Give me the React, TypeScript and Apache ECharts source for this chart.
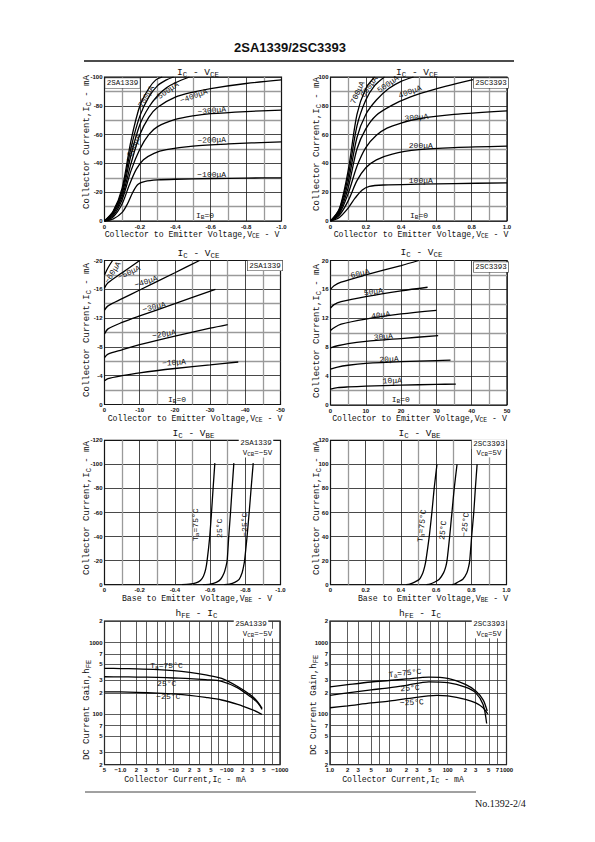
import React, { useEffect, useRef } from "react";
import * as echarts from "echarts";

// ================= DATA =================
// Fig.1  2SA1339  IC–VCE  (|VCE| V, |IC| mA), IB = −100 … −700 µA
const satA_100 = [[0, 0], [0.05, 1.5], [0.1, 6], [0.13, 12], [0.16, 20], [0.19, 25.5], [0.23, 27.5], [0.3, 28.5], [0.4, 29], [0.6, 29.5], [0.8, 29.8], [1.0, 30]];
const satA_200 = [[0, 0], [0.05, 3], [0.1, 12], [0.14, 25], [0.18, 36], [0.22, 42.5], [0.28, 47], [0.35, 49.5], [0.5, 52], [0.7, 53.5], [1.0, 55]];
const satA_300 = [[0, 0], [0.05, 4], [0.1, 15], [0.15, 35], [0.2, 50], [0.25, 60], [0.3, 65.5], [0.4, 70.5], [0.5, 73], [0.6, 74.5], [0.8, 76], [1.0, 77]];
const satA_400 = [[0, 0], [0.05, 5], [0.1, 17], [0.15, 40], [0.2, 60], [0.25, 72], [0.3, 79], [0.4, 86], [0.5, 89.5], [0.6, 92], [0.8, 95.5], [1.0, 98]];
const satA_500 = [[0, 0], [0.05, 6], [0.1, 19], [0.15, 46], [0.2, 67], [0.25, 79], [0.3, 87], [0.35, 92.5], [0.4, 96], [0.48, 100]];
const satA_600 = [[0, 0], [0.05, 6.5], [0.1, 21], [0.15, 51], [0.2, 73], [0.25, 86], [0.3, 94], [0.35, 98], [0.39, 100]];
const satA_700 = [[0, 0], [0.05, 7], [0.1, 23], [0.15, 56], [0.2, 80], [0.25, 92], [0.29, 98], [0.326, 100]];

// Fig.2  2SC3393  IC–VCE, IB = 100 … 700 µA
const satC_100 = [[0, 0], [0.05, 2.5], [0.1, 9], [0.14, 16], [0.18, 21.5], [0.22, 24], [0.3, 25], [0.5, 25.6], [0.7, 26], [1.0, 26.5]];
const satC_200 = [[0, 0], [0.05, 4], [0.1, 14], [0.15, 28], [0.2, 37], [0.26, 42.5], [0.35, 46.5], [0.5, 49.5], [0.7, 51], [1.0, 52]];
const satC_300 = [[0, 0], [0.05, 5], [0.1, 19], [0.15, 38], [0.2, 51], [0.26, 59.5], [0.32, 64.5], [0.4, 68], [0.5, 71], [0.7, 74], [1.0, 76.5]];
const satC_400 = [[0, 0], [0.05, 6], [0.1, 23], [0.15, 50], [0.2, 64], [0.26, 73.5], [0.35, 80.5], [0.45, 86], [0.55, 90], [0.65, 93.5], [0.82, 98.5]];
const satC_500 = [[0, 0], [0.05, 7], [0.1, 27], [0.15, 58], [0.2, 74], [0.26, 84], [0.33, 92], [0.4, 97], [0.47, 100]];
const satC_600 = [[0, 0], [0.05, 8], [0.1, 31], [0.15, 66], [0.2, 84], [0.25, 94], [0.306, 100]];
const satC_700 = [[0, 0], [0.05, 8.5], [0.1, 35], [0.15, 74], [0.2, 92], [0.25, 100]];

// Fig.3  2SA1339  IC–VCE (|VCE| V, |IC| mA), IB = −10 … −60 µA
const linA_10 = [[0, 3.3], [1, 3.6], [5, 4.0], [10, 4.4], [20, 5.0], [30, 5.5], [38, 5.9]];
const linA_20 = [[0, 6.5], [1, 7.0], [5, 7.6], [10, 8.3], [20, 9.5], [30, 10.6], [35, 11.1]];
const linA_30 = [[0, 9.8], [1, 10.5], [5, 11.4], [10, 12.3], [20, 14.0], [31.5, 16.0]];
const linA_40 = [[0, 13.1], [1, 13.7], [5, 14.7], [10, 15.9], [20, 18.3], [27, 20]];
const linA_50 = [[0, 16.2], [1, 16.9], [5, 18.3], [10, 20]];
const linA_60 = [[0, 18], [1, 19.0], [2.3, 20]];

// Fig.4  2SC3393  IC–VCE, IB = 10 … 60 µA
const linC_10 = [[0, 2.2], [2, 2.4], [5, 2.5], [10, 2.6], [20, 2.75], [30, 2.85], [35.5, 2.9]];
const linC_20 = [[0, 4.95], [2, 5.25], [5, 5.5], [10, 5.75], [20, 6.0], [30, 6.15], [34, 6.2]];
const linC_30 = [[0, 7.9], [2, 8.2], [5, 8.5], [10, 8.8], [20, 9.2], [30.5, 9.6]];
const linC_40 = [[0, 10.3], [1, 10.7], [3, 11.2], [10, 11.9], [20, 12.6], [30, 13.1]];
const linC_50 = [[0, 13.4], [1, 13.9], [3, 14.3], [10, 15.0], [20, 15.8], [27.5, 16.3]];
const linC_60 = [[0, 16.0], [1, 16.5], [3, 17.0], [10, 18.0], [20, 19.3], [25, 20]];

// Fig.5  2SA1339  IC–VBE (|VBE| V, |IC| mA)
const vbeA_75 = [[0.44, 0], [0.48, 0.4], [0.52, 1.5], [0.545, 3.5], [0.562, 7], [0.575, 13], [0.583, 20], [0.598, 40], [0.608, 60], [0.617, 80], [0.627, 101]];
const vbeA_25 = [[0.56, 0], [0.6, 0.5], [0.635, 2], [0.66, 4.5], [0.68, 10], [0.69, 15], [0.697, 20], [0.706, 40], [0.716, 60], [0.725, 80], [0.735, 101]];
const vbeA_m25 = [[0.68, 0], [0.71, 0.5], [0.74, 2], [0.765, 4.5], [0.782, 10], [0.79, 15], [0.796, 20], [0.81, 40], [0.822, 60], [0.833, 80], [0.845, 101]];

// Fig.6  2SC3393  IC–VBE
const vbeC_75 = [[0.43, 0], [0.45, 0.5], [0.475, 2], [0.505, 4.5], [0.525, 10], [0.535, 15], [0.542, 20], [0.561, 40], [0.576, 60], [0.589, 80], [0.605, 100]];
const vbeC_25 = [[0.545, 0], [0.565, 0.5], [0.59, 2], [0.618, 4.5], [0.643, 10], [0.655, 15], [0.662, 20], [0.677, 40], [0.69, 60], [0.703, 80], [0.719, 100]];
const vbeC_m25 = [[0.69, 0], [0.705, 0.5], [0.722, 2], [0.752, 4.5], [0.775, 10], [0.785, 15], [0.791, 20], [0.802, 40], [0.814, 60], [0.823, 80], [0.833, 100]];

// Fig.7  2SA1339  hFE–IC (|IC| mA, hFE)
const hfeA_75 = [[0.5, 438], [1, 436], [2, 432], [5, 422], [10, 408], [20, 385], [40, 355], [80, 318], [160, 245], [280, 186], [380, 150], [460, 122]];
const hfeA_25 = [[0.5, 335], [1, 334], [2, 332], [5, 328], [10, 322], [20, 316], [40, 305], [80, 290], [160, 235], [280, 176], [380, 145], [460, 118]];
const hfeA_m25 = [[0.5, 207], [1, 206], [2, 203], [5, 198], [10, 193], [20, 185], [40, 173], [80, 159], [160, 138], [280, 119], [380, 108], [460, 100]];

// Fig.8  2SC3393  hFE–IC
const hfeC_75 = [[1, 243], [2, 260], [5, 283], [10, 297], [20, 312], [48, 330], [100, 318], [200, 262], [300, 212], [400, 160], [470, 112]];
const hfeC_25 = [[1, 185], [2, 200], [5, 220], [10, 235], [20, 255], [48, 285], [100, 277], [200, 240], [300, 200], [400, 138], [460, 75]];
const hfeC_m25 = [[1, 124], [2, 132], [5, 145], [10, 153], [20, 166], [66, 185], [100, 181], [200, 162], [300, 145], [400, 124], [480, 102]];

// Tick labels
const vceSatTicksA = ["0", "-0.2", "-0.4", "-0.6", "-0.8", "-1.0"];
const icSatTicksA = ["0", "-20", "-40", "-60", "-80", "-100"];
const vceSatTicksC = ["0", "0.2", "0.4", "0.6", "0.8", "1.0"];
const icSatTicksC = ["0", "20", "40", "60", "80", "100"];
const vceTicksA = ["0", "-10", "-20", "-30", "-40", "-50"];
const icTicksA = ["0", "-4", "-8", "-12", "-16", "-20"];
const vceTicksC = ["0", "10", "20", "30", "40", "50"];
const icTicksC = ["0", "4", "8", "12", "16", "20"];
const vbeTicksA = ["0", "-0.2", "-0.4", "-0.6", "-0.8", "-1.0"];
const icVbeTicksA = ["0", "-20", "-40", "-60", "-80", "-100", "-120"];
const vbeTicksC = ["0", "0.2", "0.4", "0.6", "0.8", "1.0"];
const icVbeTicksC = ["0", "20", "40", "60", "80", "100", "120"];
const hfeTickValues = [20, 30, 50, 70, 100, 200, 300, 500, 700, 1000, 2000];
const hfeTickLabels = ["2", "3", "5", "7", "100", "2", "3", "5", "7", "1000", "2"];
const icLogValuesA = [0.5, 1, 2, 3, 5, 7, 10, 20, 30, 50, 70, 100, 200, 300, 500, 700, 1000];
const icLogLabelsA = ["5", "−1.0", "2", "3", "5", "", "−10", "2", "3", "5", "", "−100", "2", "3", "5", "7", "−1000"];
const icLogValuesC = [1, 2, 3, 5, 7, 10, 20, 30, 50, 70, 100, 200, 300, 500, 700, 1000];
const icLogLabelsC = ["1.0", "2", "3", "5", "", "10", "2", "3", "5", "", "100", "2", "3", "5", "7", "1000"];

// ================= LAYOUT / STYLE =================
const MONO = "'Liberation Mono', 'DejaVu Sans Mono', monospace";
const SANS = "'Liberation Sans', Arial, sans-serif";
const SERIF = "'Liberation Serif', 'Times New Roman', serif";

const GRIDS = [
  { left: 104.5, top: 77, width: 177, height: 144 },
  { left: 330.5, top: 77, width: 176.5, height: 144 },
  { left: 104.5, top: 260.5, width: 176, height: 144 },
  { left: 330.5, top: 260.5, width: 176.5, height: 144.5 },
  { left: 104.5, top: 440.3, width: 176, height: 144.4 },
  { left: 330.5, top: 440.3, width: 176, height: 144.4 },
  { left: 104.5, top: 621, width: 175.5, height: 143.7 },
  { left: 330, top: 621, width: 176.5, height: 143.7 },
];

const tickFont = { fontSize: 6, fontWeight: "bold" as const, fontFamily: SANS, color: "#111" };

function linAxis(gi: number, max: number, interval: number, labels: string[], minor: boolean, isX: boolean) {
  return {
    type: "value", gridIndex: gi, min: 0, max, interval,
    axisLine: { show: false }, axisTick: { show: false },
    axisLabel: {
      ...tickFont, margin: isX ? 2.5 : 2, showMinLabel: true, showMaxLabel: true,
      formatter: (v: number) => labels[Math.round(v / interval)] ?? "",
    },
    splitLine: { show: true, lineStyle: { color: "#1a1a1a", width: 0.8 } },
    minorTick: { show: false, splitNumber: 2 },
    minorSplitLine: { show: minor, lineStyle: { color: "#9a9a9a", width: 1.3 } },
  };
}

function logAxis(gi: number, min: number, max: number, values: number[], labels: string[], isX: boolean) {
  const vals = values.map((v) => Math.log10(v));
  return {
    type: "value", gridIndex: gi, min: Math.log10(min), max: Math.log10(max),
    axisLine: { show: false },
    axisTick: { show: false, customValues: vals },
    axisLabel: {
      ...tickFont, margin: isX ? 2.5 : 2, customValues: vals, showMinLabel: true, showMaxLabel: true, hideOverlap: false,
      formatter: (v: number) => {
        const i = vals.findIndex((t) => Math.abs(t - v) < 1e-6);
        return i >= 0 ? labels[i] : "";
      },
    },
    splitLine: { show: true, lineStyle: { color: "#333", width: 0.8 } },
  };
}

function curve(gi: number, data: number[][], log = false, smooth = 0.3) {
  return {
    type: "line", xAxisIndex: gi, yAxisIndex: gi,
    data: log ? data.map(([x, y]) => [Math.log10(x), Math.log10(y)]) : data,
    symbol: "none", showSymbol: false, smooth,
    lineStyle: { color: "#000", width: 1.3 }, silent: true, z: 5,
  };
}

function toRich(s: string): string {
  let out = "";
  let buf = "";
  let i = 0;
  while (i < s.length) {
    if (s[i] === "_" && s[i + 1] === "{") {
      if (buf) { out += `{n|${buf}}`; buf = ""; }
      const j = s.indexOf("}", i);
      out += `{s|${s.slice(i + 2, j)}}`;
      i = j + 1;
    } else { buf += s[i]; i++; }
  }
  if (buf) out += `{n|${buf}}`;
  return out;
}

type LOpt = { rot?: number; align?: string; bg?: boolean; border?: boolean; family?: string; weight?: string };
function txt(x: number, y: number, s: string, size: number, o: LOpt = {}) {
  const fam = o.family ?? MONO;
  const w = o.weight ?? "normal";
  const style: any = {
    text: toRich(s), align: o.align ?? "center", verticalAlign: "middle",
    fill: "#111", fontSize: size, fontFamily: fam, fontWeight: w,
    rich: {
      n: { fontSize: size, fontFamily: fam, fontWeight: w, fill: "#111", lineHeight: size * 1.3, verticalAlign: "middle" },
      s: { fontSize: size * 0.78, fontFamily: fam, fontWeight: w, fill: "#111", lineHeight: size * 0.78, verticalAlign: "bottom" },
    },
  };
  if (o.bg) { style.backgroundColor = "#fff"; style.padding = [0, 1.5]; }
  if (o.border) { style.borderColor = "#333"; style.borderWidth = 0.6; }
  return { type: "text", x, y, rotation: ((o.rot ?? 0) * Math.PI) / 180, z: 100, silent: true, style };
}

function hline(x1: number, x2: number, y: number, w: number) {
  return { type: "line", shape: { x1, y1: y, x2, y2: y }, style: { stroke: "#111", lineWidth: w }, z: 100, silent: true };
}

function buildGraphic() {
  const T = 9.5, XN = 8.2, YN = 9, CL = 8, DV = 7.5;
  const R = 90;
  return [
    txt(290, 47, "2SA1339/2SC3393", 13, { family: SANS, weight: "bold" }),
    hline(84, 514, 61, 1.3),
    hline(85, 476, 792, 0.8),
    txt(475, 803.5, "No.1392-2/4", 10, { family: SERIF, align: "left" }),

    // titles
    txt(198, 72, "I_{C} - V_{CE}", T), txt(417, 72, "I_{C} - V_{CE}", T),
    txt(198.5, 253, "I_{C} - V_{CE}", T), txt(421.5, 252.5, "I_{C} - V_{CE}", T),
    txt(193.5, 433, "I_{C} - V_{BE}", T), txt(419.5, 433, "I_{C} - V_{BE}", T),
    txt(196.5, 613, "h_{FE} - I_{C}", T), txt(420, 613, "h_{FE} - I_{C}", T),

    // x-axis names
    txt(192, 234, "Collector to Emitter Voltage,V_{CE} - V", XN),
    txt(421, 234.5, "Collector to Emitter Voltage,V_{CE} - V", XN),
    txt(195, 418, "Collector to Emitter Voltage,V_{CE} - V", XN),
    txt(419.5, 418.5, "Collector to Emitter Voltage,V_{CE} - V", XN),
    txt(197, 598.5, "Base to Emitter Voltage,V_{BE} - V", XN),
    txt(433, 598.5, "Base to Emitter Voltage,V_{BE} - V", XN),
    txt(185, 779.5, "Collector Current,I_{C} - mA", XN),
    txt(403, 779, "Collector Current,I_{C} - mA", XN),

    // y-axis names
    txt(87, 142, "Collector Current,I_{C} - mA", YN, { rot: R }),
    txt(317, 144, "Collector Current,I_{C} - mA", YN, { rot: R }),
    txt(87, 330, "Collector Current,I_{C} - mA", YN, { rot: R }),
    txt(317, 331, "Collector Current,I_{C} - mA", YN, { rot: R }),
    txt(87, 508, "Collector Current,I_{C} - mA", YN, { rot: R }),
    txt(317, 508, "Collector Current,I_{C} - mA", YN, { rot: R }),
    txt(87, 710, "DC Current Gain,h_{FE}", YN, { rot: R }),
    txt(314, 705, "DC Current Gain,h_{FE}", YN, { rot: R }),

    // device boxes
    txt(122.5, 83, "2SA1339", DV, { bg: true, border: true }),
    txt(491, 83, "2SC3393", DV, { bg: true, border: true }),
    txt(265, 265.5, "2SA1339", DV, { bg: true, border: true }),
    txt(491, 267, "2SC3393", DV, { bg: true, border: true }),
    txt(256, 443, "2SA1339", DV, { bg: true }),
    txt(257.5, 452.5, "V_{CB}=−5V", DV, { bg: true }),
    txt(489, 444, "2SC3393", DV, { bg: true }),
    txt(489, 452.5, "V_{CB}=5V", DV, { bg: true }),
    txt(251, 624, "2SA1339", DV, { bg: true }),
    txt(257.5, 633.5, "V_{CB}=−5V", DV, { bg: true }),
    txt(489, 624, "2SC3393", DV, { bg: true }),
    txt(489, 633.5, "V_{CB}=5V", DV, { bg: true }),

    // Fig.1 curve labels
    txt(133, 147.7, "−600μA", CL, { rot: 65 }),
    txt(145, 98.5, "−700μA", CL, { rot: 60 }),
    txt(166, 91.8, "−500μA", CL, { rot: 35 }),
    txt(193.7, 96, "−400μA", CL, { rot: 20 }),
    txt(211.7, 110.5, "−300μA", CL, { rot: 6 }),
    txt(211.7, 140, "−200μA", CL, { rot: 2 }),
    txt(211.7, 174, "−100μA", CL),
    txt(205, 215.5, "I_{B}=0", CL),
    // Fig.2
    txt(357.5, 92.5, "700μA", CL, { rot: 65 }),
    txt(369, 86.7, "600μA", CL, { rot: 55 }),
    txt(388, 84, "500μA", CL, { rot: 35 }),
    txt(410, 91.7, "400μA", CL, { rot: 20 }),
    txt(416.5, 117.5, "300μA", CL, { rot: 5 }),
    txt(420.8, 145, "200μA", CL),
    txt(420.8, 180.3, "100μA", CL),
    txt(419, 215, "I_{B}=0", CL),
    // Fig.3
    txt(112.5, 272.5, "−60μA", CL, { rot: 58 }),
    txt(129, 272.5, "−50μA", CL, { rot: 25 }),
    txt(146, 281.7, "−40μA", CL, { rot: 18 }),
    txt(154, 307, "−30μA", CL, { rot: 14 }),
    txt(164, 334, "−20μA", CL, { rot: 10 }),
    txt(174, 362.5, "−10μA", CL, { rot: 4 }),
    txt(177, 399, "I_{B}=0", CL),
    // Fig.4
    txt(360, 273.3, "60μA", CL, { rot: 14 }),
    txt(373.3, 291.7, "50μA", CL, { rot: 8 }),
    txt(380.7, 315, "40μA", CL, { rot: 8 }),
    txt(383.3, 336.7, "30μA", CL, { rot: 5 }),
    txt(389, 359.3, "20μA", CL, { rot: 3 }),
    txt(392.3, 380.7, "10μA", CL, { rot: 2 }),
    txt(400.7, 399, "I_{B}=0", CL),
    // Fig.5
    txt(195, 524.7, "T_{a}=75°C", CL, { rot: 90 }),
    txt(219.3, 528.3, "25°C", CL, { rot: 90 }),
    txt(244, 524.7, "−25°C", CL, { rot: 90 }),
    // Fig.6
    txt(421.7, 525.7, "T_{a}=75°C", CL, { rot: 84 }),
    txt(442.7, 530.3, "25°C", CL, { rot: 84 }),
    txt(465, 524.7, "−25°C", CL, { rot: 84 }),
    // Fig.7
    txt(166.5, 665.5, "T_{a}=75°C", CL),
    txt(166.7, 683.5, "25°C", CL),
    txt(168.3, 696.7, "−25°C", CL),
    // Fig.8
    txt(405, 673, "T_{a}=75°C", CL, { rot: 6 }),
    txt(410, 688, "25°C", CL, { rot: 4 }),
    txt(411.7, 702.3, "−25°C", CL, { rot: 3 }),
  ];
}

function buildOption() {
  return {
    animation: false,
    grid: GRIDS.map((g) => ({ ...g, show: true, borderColor: "#000", borderWidth: 1.2, backgroundColor: "transparent", containLabel: false })),
    xAxis: [
      linAxis(0, 1, 0.2, vceSatTicksA, true, true),
      linAxis(1, 1, 0.2, vceSatTicksC, true, true),
      linAxis(2, 50, 10, vceTicksA, true, true),
      linAxis(3, 50, 10, vceTicksC, true, true),
      linAxis(4, 1, 0.2, vbeTicksA, true, true),
      linAxis(5, 1, 0.2, vbeTicksC, true, true),
      logAxis(6, 0.5, 1000, icLogValuesA, icLogLabelsA, true),
      logAxis(7, 1, 1000, icLogValuesC, icLogLabelsC, true),
    ],
    yAxis: [
      linAxis(0, 100, 20, icSatTicksA, true, false),
      linAxis(1, 100, 20, icSatTicksC, true, false),
      linAxis(2, 20, 4, icTicksA, true, false),
      linAxis(3, 20, 4, icTicksC, true, false),
      linAxis(4, 120, 20, icVbeTicksA, false, false),
      linAxis(5, 120, 20, icVbeTicksC, false, false),
      logAxis(6, 20, 2000, hfeTickValues, hfeTickLabels, false),
      logAxis(7, 20, 2000, hfeTickValues, hfeTickLabels, false),
    ],
    series: [
      ...[satA_100, satA_200, satA_300, satA_400, satA_500, satA_600, satA_700].map((d) => curve(0, d)),
      ...[satC_100, satC_200, satC_300, satC_400, satC_500, satC_600, satC_700].map((d) => curve(1, d)),
      ...[linA_10, linA_20, linA_30, linA_40, linA_50, linA_60].map((d) => curve(2, d)),
      ...[linC_10, linC_20, linC_30, linC_40, linC_50, linC_60].map((d) => curve(3, d)),
      ...[vbeA_75, vbeA_25, vbeA_m25].map((d) => curve(4, d, false, 0.2)),
      ...[vbeC_75, vbeC_25, vbeC_m25].map((d) => curve(5, d, false, 0.2)),
      ...[hfeA_75, hfeA_25, hfeA_m25].map((d) => curve(6, d, true)),
      ...[hfeC_75, hfeC_25, hfeC_m25].map((d) => curve(7, d, true)),
    ],
    graphic: { elements: buildGraphic() },
  };
}

export default function App() {
  const ref = useRef<HTMLDivElement>(null);
  useEffect(() => {
    if (!ref.current) return;
    const chart = echarts.init(ref.current, null, { renderer: "svg" });
    chart.setOption(buildOption() as any);
    return () => chart.dispose();
  }, []);
  return <div ref={ref} style={{ position: "absolute", left: 0, top: 0, width: 595, height: 842, background: "#fff" }} />;
}
